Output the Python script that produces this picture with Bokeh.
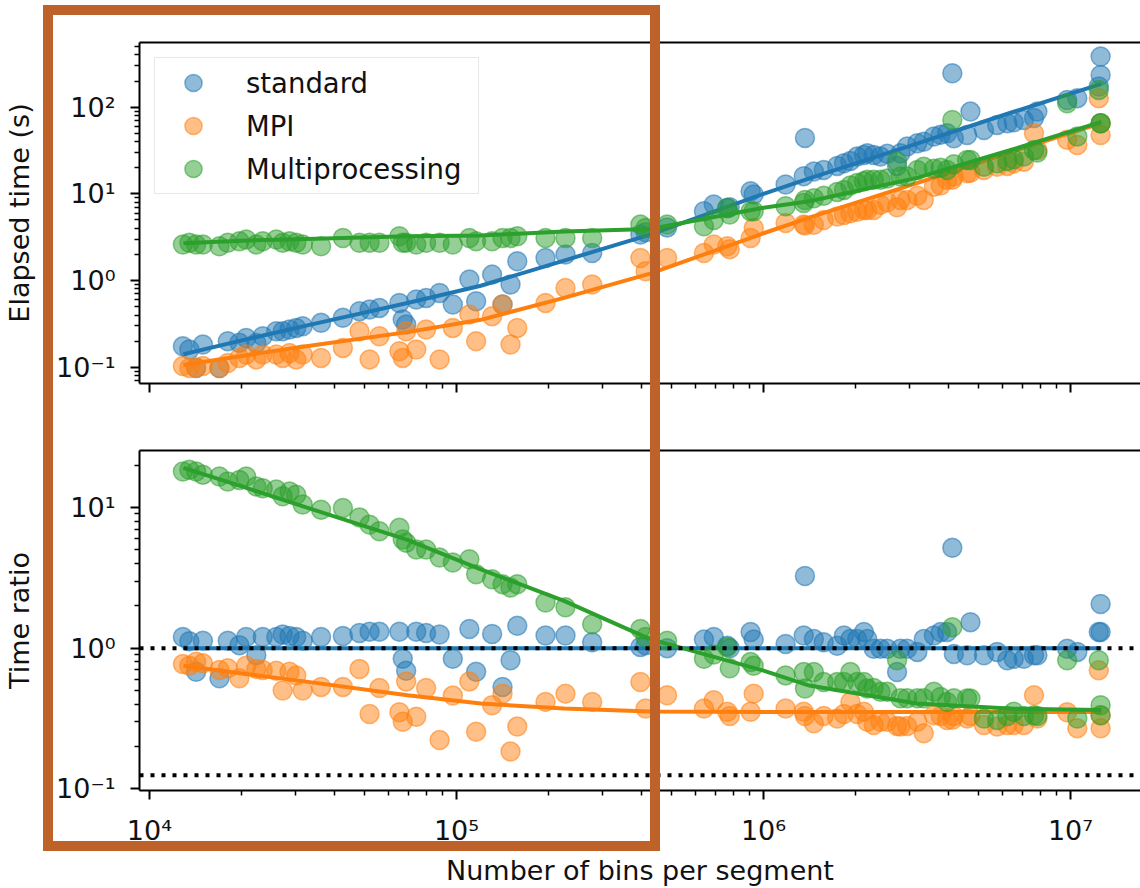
from bokeh.plotting import figure
from bokeh.layouts import column
from bokeh.models import (Range1d, FixedTicker, CustomJSTickFormatter, LinearAxis,
                          Span, InlineStyleSheet, CustomLabelingPolicy)
from bokeh.embed import file_html
from bokeh.resources import INLINE

FONT = "DejaVu Sans"
BLUE, ORANGE, GREEN = "#1f77b4", "#ff7f0e", "#2ca02c"

# ---- measurements: number of bins per segment and elapsed time (s) ----
bins = [12850, 13490, 14190, 14930, 16900, 17990, 19630, 20650, 22280, 23390,
        25880, 27160, 28580, 30060, 31550, 36220, 42660, 48310, 52120, 56100,
        65160, 66830, 68550, 73960, 79620, 88100, 97270, 110150, 115880, 130620,
        141250, 149970, 157760, 194980, 226460, 276690, 397190, 413050, 485280, 639730,
        688650, 762080, 776250, 907820, 928970, 1180320, 1352070, 1364580, 1458810, 1570360,
        1737800, 1828100, 1918690, 2018370, 2123240, 2177700, 2285610, 2404420, 2529300, 2722700,
        2792540, 2937650, 3169780, 3326650, 3589220, 3775680, 3962780, 4120980, 4168690, 4602720,
        4720800, 5223960, 5767900, 6223040, 6531310, 7046930, 7603020, 7798040, 9749890, 10520000,
        12359500, 12531400, 12531400]

t_standard = [0.175, 0.160, 0.098, 0.183, 0.098, 0.200, 0.191, 0.218, 0.190, 0.228,
              0.260, 0.260, 0.272, 0.284, 0.297, 0.325, 0.371, 0.443, 0.463, 0.483,
              0.552, 0.355, 0.311, 0.604, 0.630, 0.719, 0.529, 1.03, 0.577, 1.17,
              0.53, 0.90, 1.67, 1.82, 2.00, 2.08, 3.39, 3.60, 4.10, 6.29,
              7.53, 6.88, 7.00, 10.7, 9.82, 12.8, 16.0, 44.2, 18.1, 18.9,
              21.0, 22.5, 24.0, 26.9, 28.0, 29.4, 28.0, 26.9, 29.0, 21.0,
              29.4, 35.1, 38.4, 40.0, 45.8, 48.0, 50.0, 246.0, 43.8, 47.8,
              88.9, 54.6, 62.4, 65.2, 67.0, 71.2, 75.0, 88.9, 121.0, 127.0,
              173.0, 235.0, 384.0]

t_mpi = [0.103, 0.098, 0.100, 0.103, 0.098, 0.112, 0.128, 0.140, 0.123, 0.140,
         0.140, 0.128, 0.146, 0.123, 0.140, 0.128, 0.167, 0.260, 0.123, 0.228,
         0.153, 0.128, 0.260, 0.160, 0.272, 0.123, 0.284, 0.405, 0.200, 0.388,
         0.53, 0.183, 0.284, 0.552, 0.822, 0.90, 1.82, 1.28, 1.82, 2.08,
         2.60, 2.49, 2.30, 3.10, 4.04, 4.61, 4.42, 4.30, 4.39, 5.0,
         5.47, 5.7, 5.97, 6.2, 6.53, 6.5, 6.53, 7.5, 8.0, 7.0,
         8.51, 8.51, 9.5, 8.51, 12.1, 12.5, 14.5, 14.5, 15.8, 17.3,
         17.5, 18.9, 20.6, 21.0, 22.5, 23.5, 50.0, 32.1, 42.0, 36.6,
         127.0, 47.8, 65.2]

t_multi = [2.60, 2.72, 2.60, 2.60, 2.49, 2.72, 2.84, 2.97, 2.60, 2.84,
           2.97, 2.72, 2.84, 2.72, 2.60, 2.49, 3.10, 2.72, 2.72, 2.72,
           3.24, 2.72, 2.72, 2.60, 2.72, 2.72, 2.60, 3.10, 2.84, 2.84,
           3.10, 3.10, 3.24, 3.10, 3.10, 3.10, 4.42, 4.04, 4.42, 4.23,
           5.0, 6.88, 5.77, 6.30, 6.30, 7.19, 7.85, 8.5, 8.89, 9.5,
           10.5, 11.1, 12.5, 13.3, 14.0, 14.5, 14.5, 14.5, 15.0, 23.6,
           15.8, 15.8, 18.9, 20.6, 19.5, 20.0, 18.9, 71.2, 22.0, 24.6,
           24.6, 20.6, 22.5, 24.0, 25.0, 27.0, 32.1, 30.0, 111.0, 45.8,
           158.0, 65.2, 65.2]

# ---- time ratio relative to the fitted standard timing ----
r_standard = [1.20, 1.12, 0.68, 1.13, 0.61, 1.13, 1.05, 1.20, 0.89, 1.20,
              1.20, 1.25, 1.22, 1.20, 1.13, 1.20, 1.22, 1.28, 1.31, 1.31,
              1.31, 0.84, 0.69, 1.31, 1.28, 1.25, 0.84, 1.37, 0.68, 1.26,
              0.53, 0.82, 1.44, 1.23, 1.23, 1.10, 1.02, 1.05, 1.00, 1.15,
              1.20, 1.04, 1.00, 1.30, 1.15, 1.07, 1.23, 3.26, 1.16, 1.10,
              1.04, 1.23, 1.16, 1.16, 1.30, 1.16, 0.99, 0.99, 0.99, 0.676,
              0.99, 0.99, 0.94, 1.16, 1.23, 1.30, 1.30, 5.17, 0.91, 0.89,
              1.53, 0.89, 0.94, 0.82, 0.84, 0.84, 0.89, 0.89, 0.99, 0.94,
              1.30, 1.30, 2.06]

r_mpi = [0.77, 0.75, 0.80, 0.78, 0.70, 0.72, 0.61, 0.75, 0.71, 0.70,
         0.69, 0.50, 0.68, 0.64, 0.50, 0.53, 0.53, 0.71, 0.34, 0.52,
         0.35, 0.30, 0.58, 0.325, 0.52, 0.222, 0.46, 0.58, 0.255, 0.393,
         0.475, 0.184, 0.277, 0.415, 0.475, 0.415, 0.575, 0.372, 0.462, 0.372,
         0.426, 0.353, 0.33, 0.353, 0.475, 0.372, 0.353, 0.33, 0.292, 0.33,
         0.316, 0.34, 0.415, 0.34, 0.353, 0.30, 0.284, 0.30, 0.30, 0.28,
         0.277, 0.28, 0.30, 0.248, 0.334, 0.33, 0.308, 0.31, 0.33, 0.316,
         0.33, 0.284, 0.277, 0.284, 0.284, 0.284, 0.462, 0.316, 0.35, 0.269,
         0.695, 0.269, 0.334]

r_multi = [18.0, 18.5, 18.0, 17.1, 16.6, 15.3, 15.7, 16.6, 14.1, 13.7,
           13.4, 12.0, 13.0, 12.3, 10.5, 9.64, 9.92, 8.50, 7.55, 6.78,
           7.16, 5.92, 5.61, 5.03, 5.03, 4.40, 4.06, 4.28, 3.35, 3.09,
           2.85, 2.70, 2.85, 2.11, 1.95, 1.48, 1.37, 1.20, 1.13, 0.84,
           0.90, 1.02, 0.72, 0.796, 0.75, 0.64, 0.676, 0.516, 0.676, 0.575,
           0.575, 0.575, 0.676, 0.575, 0.575, 0.516, 0.52, 0.49, 0.49, 0.82,
           0.44, 0.44, 0.44, 0.44, 0.489, 0.45, 0.415, 1.41, 0.44, 0.438,
           0.438, 0.316, 0.308, 0.33, 0.353, 0.33, 0.334, 0.33, 0.82, 0.316,
           0.82, 0.334, 0.393]

# ---- fitted curves ----
fit_bins = [12900, 20000, 32400, 69200, 120000, 224000, 427000,
            1000000, 1410000, 3160000, 6310000, 12600000]
fit_standard = [0.141, 0.204, 0.302, 0.550, 0.871, 1.70, 3.39, 10.0, 15.1, 38.0, 85.1, 186.0]
fit_mpi = [0.106, 0.135, 0.175, 0.254, 0.352, 0.631, 1.20, 3.51, 5.31, 13.3, 29.9, 65.3]
fit_multi = [2.69, 2.88, 3.02, 3.24, 3.31, 3.68, 3.94, 6.92, 8.20, 15.3, 31.6, 67.6]
fit_r_standard = [1.0, 1.0, 1.0, 1.0, 1.0, 1.0, 1.0, 1.0, 1.0, 1.0, 1.0, 1.0]
fit_r_mpi = [0.750, 0.661, 0.578, 0.462, 0.404, 0.372, 0.355, 0.351, 0.351, 0.351, 0.351, 0.351]
fit_r_multi = [19.1, 14.1, 10.0, 5.89, 3.63, 2.17, 1.16, 0.692, 0.542, 0.404, 0.372, 0.363]

ratio_guides = [1.0, 0.125]

x_major = [1e4, 1e5, 1e6, 1e7]
top_major = [0.1, 1.0, 10.0, 100.0]
bottom_major = [0.1, 1.0, 10.0]


def minor_ticks(k0, k1):
    return [m * 10.0 ** k for k in range(k0, k1) for m in range(2, 10)]


POW10 = CustomJSTickFormatter(code="""
const sup = {"-": "⁻", "0": "⁰", "1": "¹", "2": "²", "3": "³", "4": "⁴",
             "5": "⁵", "6": "⁶", "7": "⁷", "8": "⁸", "9": "⁹"};
const e = Math.round(Math.log10(tick));
return "10" + String(e).split("").map((c) => sup[c]).join("");
""")

# keeps tick marks but draws none of the tick labels
NO_LABELS = CustomLabelingPolicy(code="return new Set()")


def style_axis(ax, major, minor, show_labels=True):
    ax.ticker = FixedTicker(ticks=major, minor_ticks=minor)
    ax.formatter = POW10
    ax.axis_line_color = "black"
    ax.axis_line_width = 2
    ax.major_tick_line_color = "black"
    ax.major_tick_line_width = 2
    ax.minor_tick_line_color = "black"
    ax.minor_tick_line_width = 1.5
    ax.major_tick_in = 0
    ax.major_tick_out = 9
    ax.minor_tick_in = 0
    ax.minor_tick_out = 5
    ax.major_label_text_font = FONT
    ax.major_label_text_color = "#111111"
    ax.major_label_text_font_size = "27px"
    if not show_labels:
        ax.major_label_policy = NO_LABELS
        ax.major_label_text_font_size = "1px"
        ax.major_label_standoff = 0
    ax.axis_label_text_font = FONT
    ax.axis_label_text_font_size = "27px"
    ax.axis_label_text_font_style = "normal"
    ax.axis_label_text_color = "#111111"


def add_top_spine(p):
    spine = LinearAxis(ticker=FixedTicker(ticks=[]), axis_line_color="black",
                       axis_line_width=2, major_tick_line_color=None,
                       minor_tick_line_color=None, major_label_policy=NO_LABELS,
                       major_label_text_font_size="1px", major_label_standoff=0)
    p.add_layout(spine, "above")


x_range = Range1d(9280, 1.69e7)

# ---- upper panel: elapsed time ----
top = figure(width=1140, height=420, x_axis_type="log", y_axis_type="log",
             x_range=x_range, y_range=Range1d(0.0649, 557),
             output_backend="svg", toolbar_location=None,
             min_border_left=139, min_border_right=0, min_border_top=42, min_border_bottom=37)
top.outline_line_color = None
top.grid.visible = False
top.background_fill_color = "white"

series = [("standard", t_standard, fit_standard, BLUE),
          ("MPI", t_mpi, fit_mpi, ORANGE),
          ("Multiprocessing", t_multi, fit_multi, GREEN)]
for name, vals, fit, col in series:
    top.scatter(bins, vals, size=19, fill_color=col, line_color=col,
                fill_alpha=0.5, line_alpha=0.55, line_width=1.5, legend_label=name)
    top.line(fit_bins, fit, line_color=col, line_width=4)

style_axis(top.below[0], x_major, minor_ticks(3, 8), show_labels=False)
style_axis(top.left[0], top_major, minor_ticks(-2, 3))
top.left[0].major_label_standoff = 15
top.left[0].axis_label = "Elapsed time (s)"
top.left[0].axis_label_standoff = 18
add_top_spine(top)

lg = top.legend[0]
lg.location = "top_left"
lg.margin = 15
lg.padding = 3
lg.spacing = 0
lg.glyph_width = 70
lg.glyph_height = 43
lg.label_height = 43
lg.label_standoff = 18
lg.label_width = 229
lg.label_text_font = FONT
lg.label_text_font_size = "27.5px"
lg.label_text_color = "#111111"
lg.border_line_color = "#d0d0d0"
lg.border_line_width = 1.5
lg.background_fill_alpha = 0.8

# ---- lower panel: time ratio ----
bottom = figure(width=1140, height=468, x_axis_type="log", y_axis_type="log",
                x_range=x_range, y_range=Range1d(0.0973, 25.4),
                output_backend="svg", toolbar_location=None,
                min_border_left=139, min_border_right=0, min_border_top=30, min_border_bottom=96)
bottom.outline_line_color = None
bottom.grid.visible = False

ratio_series = [(r_standard, fit_r_standard, BLUE),
                (r_mpi, fit_r_mpi, ORANGE),
                (r_multi, fit_r_multi, GREEN)]
for vals, fit, col in ratio_series:
    bottom.scatter(bins, vals, size=19, fill_color=col, line_color=col,
                   fill_alpha=0.5, line_alpha=0.55, line_width=1.5)
    bottom.line(fit_bins, fit, line_color=col, line_width=4)

for level in ratio_guides:
    bottom.add_layout(Span(location=level, dimension="width", line_color="black",
                           line_width=4, line_dash="4 7"))

style_axis(bottom.below[0], x_major, minor_ticks(3, 8))
bottom.below[0].major_label_standoff = 15
bottom.below[0].axis_label = "Number of bins per segment"
bottom.below[0].axis_label_standoff = 6
style_axis(bottom.left[0], bottom_major, minor_ticks(-2, 2))
bottom.left[0].major_label_standoff = 15
bottom.left[0].axis_label = "Time ratio"
bottom.left[0].axis_label_standoff = 18
add_top_spine(bottom)

# highlight box drawn over the left part of both panels
highlight = InlineStyleSheet(css="""
:host { position: relative; }
:host::after {
  content: "";
  position: absolute;
  left: 43px;
  top: 5px;
  width: 617px;
  height: 846px;
  box-sizing: border-box;
  border: 10px solid #BF6229;
  pointer-events: none;
  z-index: 10;
}
""")

layout = column(top, bottom, spacing=0, stylesheets=[highlight])

with open("out.html", "w") as f:
    f.write(file_html(layout, INLINE))
